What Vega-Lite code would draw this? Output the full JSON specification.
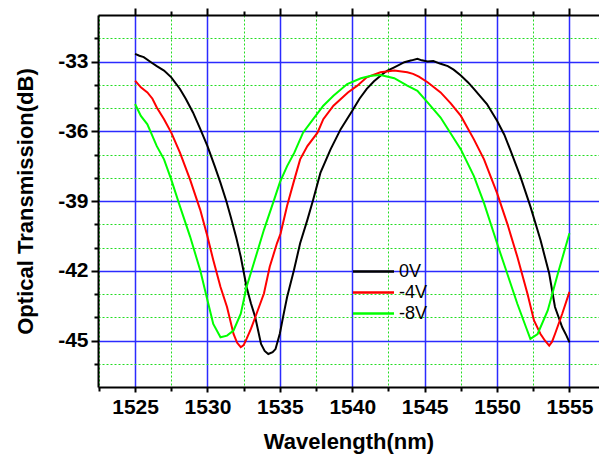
{
  "$schema": "https://vega.github.io/schema/vega-lite/v6.json",
  "width": 501,
  "height": 372,
  "autosize": {"type": "none"},
  "padding": {"left": 98, "top": 15, "right": 0, "bottom": 73},
  "config": {
    "view": {"stroke": null},
    "font": "Liberation Sans",
    "locale": {"number": {"decimal": ".", "thousands": ",", "grouping": [3], "currency": ["$", ""], "minus": "-"}},
    "axis": {"labelFont": "Liberation Sans", "labelFontSize": 21, "labelFontWeight": "bold", "labelColor": "#000000",
      "titleFont": "Liberation Sans", "titleFontSize": 22, "titleFontWeight": "bold", "titleColor": "#000000",
      "tickColor": "#000000", "tickWidth": 2, "domainColor": "#000000", "domainWidth": 2}
  },
  "datasets": {
    "curves": [
      {"wl": 1525.0, "t": -32.67, "v": "0V"},
      {"wl": 1525.3, "t": -32.75, "v": "0V"},
      {"wl": 1525.6, "t": -32.81, "v": "0V"},
      {"wl": 1526.1, "t": -33.03, "v": "0V"},
      {"wl": 1526.5, "t": -33.2, "v": "0V"},
      {"wl": 1527.0, "t": -33.39, "v": "0V"},
      {"wl": 1527.5, "t": -33.68, "v": "0V"},
      {"wl": 1528.1, "t": -34.18, "v": "0V"},
      {"wl": 1528.5, "t": -34.6, "v": "0V"},
      {"wl": 1529.0, "t": -35.19, "v": "0V"},
      {"wl": 1529.5, "t": -35.9, "v": "0V"},
      {"wl": 1530.0, "t": -36.64, "v": "0V"},
      {"wl": 1530.5, "t": -37.5, "v": "0V"},
      {"wl": 1530.9, "t": -38.22, "v": "0V"},
      {"wl": 1531.3, "t": -39.0, "v": "0V"},
      {"wl": 1531.6, "t": -39.67, "v": "0V"},
      {"wl": 1532.0, "t": -40.6, "v": "0V"},
      {"wl": 1532.3, "t": -41.4, "v": "0V"},
      {"wl": 1532.7, "t": -42.7, "v": "0V"},
      {"wl": 1533.0, "t": -43.4, "v": "0V"},
      {"wl": 1533.3, "t": -44.0, "v": "0V"},
      {"wl": 1533.7, "t": -45.15, "v": "0V"},
      {"wl": 1533.95, "t": -45.45, "v": "0V"},
      {"wl": 1534.2, "t": -45.58, "v": "0V"},
      {"wl": 1534.5, "t": -45.5, "v": "0V"},
      {"wl": 1534.7, "t": -45.37, "v": "0V"},
      {"wl": 1535.0, "t": -44.7, "v": "0V"},
      {"wl": 1535.25, "t": -43.9, "v": "0V"},
      {"wl": 1535.5, "t": -43.13, "v": "0V"},
      {"wl": 1535.97, "t": -41.98, "v": "0V"},
      {"wl": 1536.4, "t": -40.82, "v": "0V"},
      {"wl": 1536.9, "t": -39.81, "v": "0V"},
      {"wl": 1537.3, "t": -38.95, "v": "0V"},
      {"wl": 1537.8, "t": -37.79, "v": "0V"},
      {"wl": 1538.5, "t": -36.78, "v": "0V"},
      {"wl": 1539.2, "t": -35.91, "v": "0V"},
      {"wl": 1540.0, "t": -35.12, "v": "0V"},
      {"wl": 1540.5, "t": -34.6, "v": "0V"},
      {"wl": 1541.0, "t": -34.18, "v": "0V"},
      {"wl": 1541.5, "t": -33.85, "v": "0V"},
      {"wl": 1541.95, "t": -33.61, "v": "0V"},
      {"wl": 1542.4, "t": -33.4, "v": "0V"},
      {"wl": 1542.9, "t": -33.25, "v": "0V"},
      {"wl": 1543.6, "t": -33.03, "v": "0V"},
      {"wl": 1544.1, "t": -32.95, "v": "0V"},
      {"wl": 1544.5, "t": -32.88, "v": "0V"},
      {"wl": 1544.8, "t": -32.95, "v": "0V"},
      {"wl": 1545.2, "t": -33.0, "v": "0V"},
      {"wl": 1545.6, "t": -32.98, "v": "0V"},
      {"wl": 1546.1, "t": -33.1, "v": "0V"},
      {"wl": 1546.6, "t": -33.2, "v": "0V"},
      {"wl": 1547.0, "t": -33.35, "v": "0V"},
      {"wl": 1547.5, "t": -33.6, "v": "0V"},
      {"wl": 1548.0, "t": -33.9, "v": "0V"},
      {"wl": 1548.4, "t": -34.18, "v": "0V"},
      {"wl": 1549.3, "t": -34.83, "v": "0V"},
      {"wl": 1550.0, "t": -35.55, "v": "0V"},
      {"wl": 1550.5, "t": -36.15, "v": "0V"},
      {"wl": 1550.9, "t": -36.78, "v": "0V"},
      {"wl": 1551.6, "t": -37.93, "v": "0V"},
      {"wl": 1552.3, "t": -39.23, "v": "0V"},
      {"wl": 1553.0, "t": -40.68, "v": "0V"},
      {"wl": 1553.6, "t": -42.12, "v": "0V"},
      {"wl": 1554.0, "t": -43.56, "v": "0V"},
      {"wl": 1554.5, "t": -44.43, "v": "0V"},
      {"wl": 1554.8, "t": -44.8, "v": "0V"},
      {"wl": 1555.0, "t": -45.08, "v": "0V"},

      {"wl": 1525.0, "t": -33.82, "v": "-4V"},
      {"wl": 1525.4, "t": -34.11, "v": "-4V"},
      {"wl": 1525.85, "t": -34.33, "v": "-4V"},
      {"wl": 1526.2, "t": -34.6, "v": "-4V"},
      {"wl": 1526.5, "t": -34.98, "v": "-4V"},
      {"wl": 1527.0, "t": -35.48, "v": "-4V"},
      {"wl": 1527.5, "t": -36.06, "v": "-4V"},
      {"wl": 1528.1, "t": -36.92, "v": "-4V"},
      {"wl": 1528.8, "t": -38.08, "v": "-4V"},
      {"wl": 1529.5, "t": -39.38, "v": "-4V"},
      {"wl": 1530.0, "t": -40.53, "v": "-4V"},
      {"wl": 1530.4, "t": -41.54, "v": "-4V"},
      {"wl": 1530.9, "t": -42.7, "v": "-4V"},
      {"wl": 1531.35, "t": -43.56, "v": "-4V"},
      {"wl": 1531.8, "t": -44.72, "v": "-4V"},
      {"wl": 1532.05, "t": -45.1, "v": "-4V"},
      {"wl": 1532.3, "t": -45.29, "v": "-4V"},
      {"wl": 1532.5, "t": -45.2, "v": "-4V"},
      {"wl": 1532.7, "t": -44.93, "v": "-4V"},
      {"wl": 1533.0, "t": -44.5, "v": "-4V"},
      {"wl": 1533.3, "t": -44.0, "v": "-4V"},
      {"wl": 1533.9, "t": -42.98, "v": "-4V"},
      {"wl": 1534.3, "t": -41.83, "v": "-4V"},
      {"wl": 1534.8, "t": -40.82, "v": "-4V"},
      {"wl": 1535.05, "t": -40.4, "v": "-4V"},
      {"wl": 1535.5, "t": -39.2, "v": "-4V"},
      {"wl": 1536.0, "t": -38.08, "v": "-4V"},
      {"wl": 1536.4, "t": -37.21, "v": "-4V"},
      {"wl": 1536.9, "t": -36.64, "v": "-4V"},
      {"wl": 1537.6, "t": -36.06, "v": "-4V"},
      {"wl": 1538.0, "t": -35.48, "v": "-4V"},
      {"wl": 1538.7, "t": -34.9, "v": "-4V"},
      {"wl": 1539.7, "t": -34.33, "v": "-4V"},
      {"wl": 1540.35, "t": -34.04, "v": "-4V"},
      {"wl": 1541.0, "t": -33.68, "v": "-4V"},
      {"wl": 1541.95, "t": -33.46, "v": "-4V"},
      {"wl": 1542.9, "t": -33.39, "v": "-4V"},
      {"wl": 1543.8, "t": -33.46, "v": "-4V"},
      {"wl": 1544.2, "t": -33.53, "v": "-4V"},
      {"wl": 1544.6, "t": -33.65, "v": "-4V"},
      {"wl": 1545.2, "t": -33.89, "v": "-4V"},
      {"wl": 1546.1, "t": -34.33, "v": "-4V"},
      {"wl": 1546.8, "t": -34.8, "v": "-4V"},
      {"wl": 1547.5, "t": -35.34, "v": "-4V"},
      {"wl": 1548.4, "t": -36.35, "v": "-4V"},
      {"wl": 1549.1, "t": -37.21, "v": "-4V"},
      {"wl": 1550.0, "t": -38.66, "v": "-4V"},
      {"wl": 1550.7, "t": -39.96, "v": "-4V"},
      {"wl": 1551.4, "t": -41.4, "v": "-4V"},
      {"wl": 1552.1, "t": -42.99, "v": "-4V"},
      {"wl": 1552.55, "t": -44.14, "v": "-4V"},
      {"wl": 1553.0, "t": -44.72, "v": "-4V"},
      {"wl": 1553.3, "t": -45.0, "v": "-4V"},
      {"wl": 1553.6, "t": -45.22, "v": "-4V"},
      {"wl": 1553.8, "t": -45.05, "v": "-4V"},
      {"wl": 1554.0, "t": -44.72, "v": "-4V"},
      {"wl": 1554.5, "t": -43.85, "v": "-4V"},
      {"wl": 1555.0, "t": -42.91, "v": "-4V"},

      {"wl": 1525.0, "t": -34.83, "v": "-8V"},
      {"wl": 1525.4, "t": -35.34, "v": "-8V"},
      {"wl": 1525.85, "t": -35.7, "v": "-8V"},
      {"wl": 1526.5, "t": -36.64, "v": "-8V"},
      {"wl": 1527.0, "t": -37.21, "v": "-8V"},
      {"wl": 1527.5, "t": -38.08, "v": "-8V"},
      {"wl": 1528.1, "t": -39.23, "v": "-8V"},
      {"wl": 1528.8, "t": -40.53, "v": "-8V"},
      {"wl": 1529.5, "t": -41.98, "v": "-8V"},
      {"wl": 1530.0, "t": -43.27, "v": "-8V"},
      {"wl": 1530.4, "t": -44.29, "v": "-8V"},
      {"wl": 1530.9, "t": -44.86, "v": "-8V"},
      {"wl": 1531.35, "t": -44.79, "v": "-8V"},
      {"wl": 1531.8, "t": -44.57, "v": "-8V"},
      {"wl": 1532.3, "t": -43.85, "v": "-8V"},
      {"wl": 1532.7, "t": -42.7, "v": "-8V"},
      {"wl": 1533.2, "t": -41.68, "v": "-8V"},
      {"wl": 1533.9, "t": -40.24, "v": "-8V"},
      {"wl": 1534.6, "t": -38.95, "v": "-8V"},
      {"wl": 1535.0, "t": -38.2, "v": "-8V"},
      {"wl": 1535.5, "t": -37.5, "v": "-8V"},
      {"wl": 1536.0, "t": -36.92, "v": "-8V"},
      {"wl": 1536.6, "t": -36.06, "v": "-8V"},
      {"wl": 1537.3, "t": -35.48, "v": "-8V"},
      {"wl": 1538.0, "t": -34.9, "v": "-8V"},
      {"wl": 1538.7, "t": -34.47, "v": "-8V"},
      {"wl": 1539.65, "t": -33.97, "v": "-8V"},
      {"wl": 1540.6, "t": -33.72, "v": "-8V"},
      {"wl": 1541.3, "t": -33.61, "v": "-8V"},
      {"wl": 1541.95, "t": -33.58, "v": "-8V"},
      {"wl": 1542.9, "t": -33.72, "v": "-8V"},
      {"wl": 1543.8, "t": -34.04, "v": "-8V"},
      {"wl": 1544.5, "t": -34.26, "v": "-8V"},
      {"wl": 1545.2, "t": -34.76, "v": "-8V"},
      {"wl": 1546.1, "t": -35.41, "v": "-8V"},
      {"wl": 1547.5, "t": -36.78, "v": "-8V"},
      {"wl": 1548.4, "t": -37.93, "v": "-8V"},
      {"wl": 1549.1, "t": -39.09, "v": "-8V"},
      {"wl": 1550.0, "t": -40.82, "v": "-8V"},
      {"wl": 1550.7, "t": -42.12, "v": "-8V"},
      {"wl": 1551.4, "t": -43.42, "v": "-8V"},
      {"wl": 1552.0, "t": -44.43, "v": "-8V"},
      {"wl": 1552.3, "t": -44.93, "v": "-8V"},
      {"wl": 1552.8, "t": -44.72, "v": "-8V"},
      {"wl": 1553.5, "t": -43.71, "v": "-8V"},
      {"wl": 1554.2, "t": -42.12, "v": "-8V"},
      {"wl": 1555.0, "t": -40.39, "v": "-8V"}
    ]
  },
  "data": {"name": "curves"},
  "resolve": {"axis": {"x": "independent", "y": "independent"}},
  "layer": [
    {
      "mark": {"type": "line", "strokeWidth": 2},
      "encoding": {
        "x": {"field": "wl", "type": "quantitative", "scale": {"domain": [1522.44, 1557.04], "nice": false, "zero": false},
          "axis": {"orient": "bottom", "values": [1525, 1530, 1535, 1540, 1545, 1550, 1555], "format": "d",
            "title": "Wavelength(nm)", "titlePadding": 14,
            "labelFont": "Liberation Sans", "labelFontSize": 21, "labelFontWeight": "bold", "labelColor": "#000000", "labelPadding": 4,
            "domain": true, "ticks": true, "tickSize": 5,
            "grid": true, "gridColor": "#2b2bff", "gridWidth": 1.5}},
        "y": {"field": "t", "type": "quantitative", "scale": {"domain": [-47, -31], "nice": false, "zero": false},
          "axis": {"orient": "left", "values": [-45, -42, -39, -36, -33], "format": "d", "labelExpr": "replace(datum.label, '\u2212', '-')",
            "title": "Optical Transmission(dB)", "titlePadding": 20,
            "labelFont": "Liberation Sans", "labelFontSize": 21, "labelFontWeight": "bold", "labelColor": "#000000", "labelPadding": 3,
            "domain": true, "ticks": true, "tickSize": 7,
            "grid": true, "gridColor": "#2b2bff", "gridWidth": 1.5}},
        "color": {"field": "v", "type": "nominal",
          "scale": {"domain": ["0V", "-4V", "-8V"], "range": ["#000000", "#ff0000", "#00ff00"]},
          "legend": {"orient": "none", "legendX": 264, "legendY": 245, "title": null, "padding": 0,
            "symbolType": "M-2,0H2", "symbolSize": 420, "symbolStrokeWidth": 2.5,
            "labelFont": "Liberation Sans", "labelFontSize": 18, "labelColor": "#000000", "labelOffset": 14,
            "rowPadding": 0}}
      }
    },
    {
      "mark": {"type": "line", "strokeOpacity": 0},
      "encoding": {
        "x": {"field": "wl", "type": "quantitative",
          "axis": {"orient": "bottom", "values": [1522.5, 1527.5, 1532.5, 1537.5, 1542.5, 1547.5, 1552.5], "labels": false, "title": null, "domain": false,
            "grid": true, "gridColor": "#22dd22", "gridDash": [2, 2], "gridWidth": 1, "ticks": true, "tickSize": 4}},
        "y": {"field": "t", "type": "quantitative",
          "axis": {"orient": "left", "values": [-46, -44, -43, -41, -40, -38, -37, -35, -34, -32], "labels": false, "title": null, "domain": false,
            "grid": true, "gridColor": "#22dd22", "gridDash": [2, 2], "gridWidth": 1, "ticks": true, "tickSize": 4}},
        "detail": {"field": "v"}
      }
    },
    {
      "mark": {"type": "line", "strokeOpacity": 0},
      "encoding": {
        "x": {"field": "wl", "type": "quantitative",
          "axis": {"orient": "top", "values": [1527.5, 1532.5, 1537.5, 1542.5, 1547.5, 1552.5], "labels": false, "title": null, "domain": false, "grid": false,
            "ticks": true, "tickSize": 4}},
        "y": {"field": "t", "type": "quantitative", "axis": null},
        "detail": {"field": "v"}
      }
    },
    {
      "mark": {"type": "line", "strokeOpacity": 0},
      "encoding": {
        "x": {"field": "wl", "type": "quantitative",
          "axis": {"orient": "top", "values": [1525, 1530, 1535, 1540, 1545, 1550, 1555], "labels": false, "title": null, "grid": false,
            "domain": true, "ticks": true, "tickSize": 7}},
        "y": {"field": "t", "type": "quantitative", "axis": null},
        "detail": {"field": "v"}
      }
    }
  ]
}
